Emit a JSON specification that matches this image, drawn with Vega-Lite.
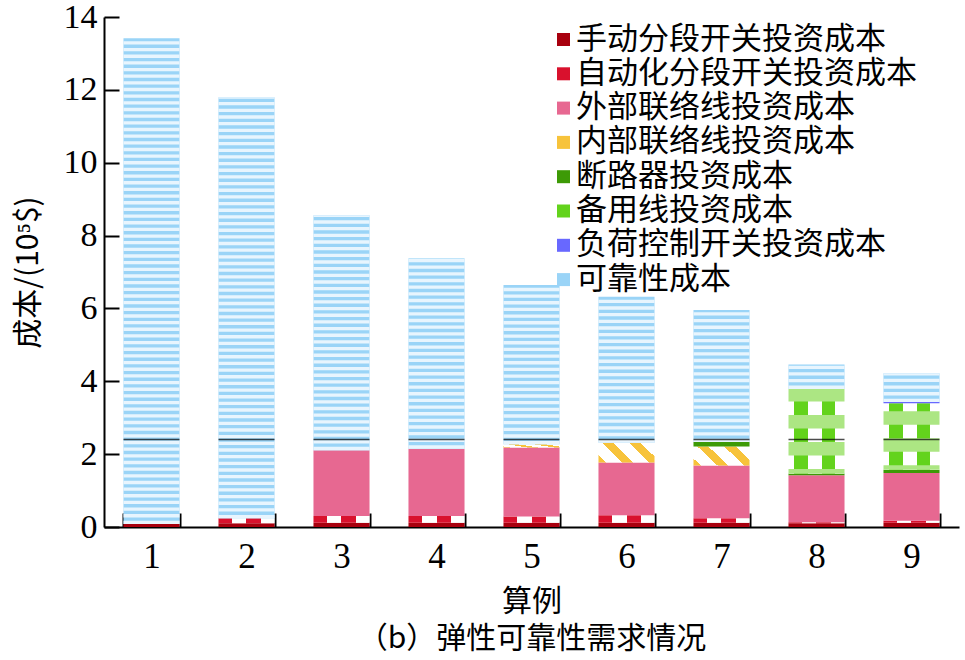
{
  "$schema": "https://vega.github.io/schema/vega-lite/v6.json",
  "width": 855,
  "height": 510,
  "autosize": "none",
  "padding": {"left": 104, "top": 17, "right": 6, "bottom": 133},
  "background": "white",
  "config": {"view": {"stroke": null}},
  "data": {
    "values": [
      {"case": 1, "series": "手动分段开关投资成本", "value": 0.08},
      {"case": 1, "series": "可靠性成本", "value": 13.34},
      {"case": 2, "series": "手动分段开关投资成本", "value": 0.1},
      {"case": 2, "series": "自动化分段开关投资成本", "value": 0.14},
      {"case": 2, "series": "可靠性成本", "value": 11.56},
      {"case": 3, "series": "手动分段开关投资成本", "value": 0.12},
      {"case": 3, "series": "自动化分段开关投资成本", "value": 0.18},
      {"case": 3, "series": "外部联络线投资成本", "value": 1.81},
      {"case": 3, "series": "可靠性成本", "value": 6.45},
      {"case": 4, "series": "手动分段开关投资成本", "value": 0.12},
      {"case": 4, "series": "自动化分段开关投资成本", "value": 0.18},
      {"case": 4, "series": "外部联络线投资成本", "value": 1.85},
      {"case": 4, "series": "可靠性成本", "value": 5.23},
      {"case": 5, "series": "手动分段开关投资成本", "value": 0.12},
      {"case": 5, "series": "自动化分段开关投资成本", "value": 0.17},
      {"case": 5, "series": "外部联络线投资成本", "value": 1.89},
      {"case": 5, "series": "内部联络线投资成本", "value": 0.09},
      {"case": 5, "series": "可靠性成本", "value": 4.37},
      {"case": 6, "series": "手动分段开关投资成本", "value": 0.12},
      {"case": 6, "series": "自动化分段开关投资成本", "value": 0.2},
      {"case": 6, "series": "外部联络线投资成本", "value": 1.45},
      {"case": 6, "series": "内部联络线投资成本", "value": 0.54},
      {"case": 6, "series": "可靠性成本", "value": 4.01},
      {"case": 7, "series": "手动分段开关投资成本", "value": 0.12},
      {"case": 7, "series": "自动化分段开关投资成本", "value": 0.12},
      {"case": 7, "series": "外部联络线投资成本", "value": 1.45},
      {"case": 7, "series": "内部联络线投资成本", "value": 0.52},
      {"case": 7, "series": "断路器投资成本", "value": 0.12},
      {"case": 7, "series": "可靠性成本", "value": 3.63},
      {"case": 8, "series": "手动分段开关投资成本", "value": 0.1},
      {"case": 8, "series": "自动化分段开关投资成本", "value": 0.03},
      {"case": 8, "series": "外部联络线投资成本", "value": 1.29},
      {"case": 8, "series": "断路器投资成本", "value": 0.05},
      {"case": 8, "series": "备用线投资成本", "value": 2.32},
      {"case": 8, "series": "可靠性成本", "value": 0.67},
      {"case": 9, "series": "手动分段开关投资成本", "value": 0.12},
      {"case": 9, "series": "自动化分段开关投资成本", "value": 0.05},
      {"case": 9, "series": "外部联络线投资成本", "value": 1.31},
      {"case": 9, "series": "断路器投资成本", "value": 0.09},
      {"case": 9, "series": "备用线投资成本", "value": 1.83},
      {"case": 9, "series": "负荷控制开关投资成本", "value": 0.03},
      {"case": 9, "series": "可靠性成本", "value": 0.79}
    ]
  },
  "transform": [
    {"stack": "value", "groupby": ["case"], "as": ["v0", "v1"]}
  ],
  "encoding": {
    "x": {
      "field": "case",
      "type": "ordinal",
      "scale": {"paddingInner": 0.41, "paddingOuter": 0.205},
      "axis": {
        "labelAngle": 0,
        "tickBand": "extent",
        "tickSize": -14,
        "tickWidth": 2,
        "tickColor": "black",
        "domainWidth": 2,
        "domainColor": "black",
        "labelFont": "Liberation Serif",
        "labelFontSize": 35,
        "labelColor": "black",
        "labelPadding": 26,
        "title": ["算例", "（b）弹性可靠性需求情况"],
        "titleFont": "Noto Sans CJK SC",
        "titleFontSize": 30,
        "titleFontWeight": "normal",
        "titleColor": "black",
        "titleLineHeight": 37,
        "titlePadding": 12
      }
    },
    "y": {
      "field": "v0",
      "type": "quantitative",
      "scale": {"domain": [0, 14], "nice": false},
      "axis": {
        "values": [0, 2, 4, 6, 8, 10, 12, 14],
        "grid": false,
        "tickSize": -15,
        "tickWidth": 2,
        "tickColor": "black",
        "domainWidth": 2,
        "domainColor": "black",
        "labelFont": "Liberation Serif",
        "labelFontSize": 34,
        "labelColor": "black",
        "labelPadding": 22,
        "title": "成本/(10⁵$)",
        "titleFont": "Noto Sans CJK SC",
        "titleFontSize": 30,
        "titleFontWeight": "normal",
        "titleColor": "black",
        "titlePadding": 20
      }
    },
    "y2": {"field": "v1"}
  },
  "layer": [
    {
      "mark": {"type": "bar"},
      "encoding": {
        "fill": {
          "condition": [
            {
              "test": "datum.series === '自动化分段开关投资成本'",
              "value": {"gradient": "linear", "x1": 0, "y1": 0, "x2": 1, "y2": 0, "stops": [
                {"offset": 0, "color": "#d9112d"}, {"offset": 0.25, "color": "#d9112d"},
                {"offset": 0.25, "color": "#ffffff"}, {"offset": 0.5, "color": "#ffffff"},
                {"offset": 0.5, "color": "#d9112d"}, {"offset": 0.75, "color": "#d9112d"},
                {"offset": 0.75, "color": "#ffffff"}, {"offset": 1, "color": "#ffffff"}]}
            },
            {
              "test": "datum.series === '内部联络线投资成本'",
              "value": {"gradient": "linear", "x1": 0, "y1": 1, "x2": 1.2, "y2": 0.57, "stops": [
                {"offset": 0, "color": "#f7c33b"}, {"offset": 0.096, "color": "#f7c33b"},
                {"offset": 0.096, "color": "#ffffff"}, {"offset": 0.316, "color": "#ffffff"},
                {"offset": 0.316, "color": "#f7c33b"}, {"offset": 0.46, "color": "#f7c33b"},
                {"offset": 0.46, "color": "#ffffff"}, {"offset": 0.669, "color": "#ffffff"},
                {"offset": 0.669, "color": "#f7c33b"}, {"offset": 0.82, "color": "#f7c33b"},
                {"offset": 0.82, "color": "#ffffff"}, {"offset": 1, "color": "#ffffff"}]}
            },
            {
              "test": "datum.series === '备用线投资成本'",
              "value": {"gradient": "linear", "x1": 0, "y1": 0, "x2": 1, "y2": 0, "stops": [
                {"offset": 0, "color": "#ffffff"}, {"offset": 0.09, "color": "#ffffff"},
                {"offset": 0.09, "color": "#63d31c"}, {"offset": 0.345, "color": "#63d31c"},
                {"offset": 0.345, "color": "#ffffff"}, {"offset": 0.59, "color": "#ffffff"},
                {"offset": 0.59, "color": "#63d31c"}, {"offset": 0.83, "color": "#63d31c"},
                {"offset": 0.83, "color": "#ffffff"}, {"offset": 1, "color": "#ffffff"}]}
            }
          ],
          "field": "series",
          "type": "nominal",
          "scale": {
            "domain": ["手动分段开关投资成本", "自动化分段开关投资成本", "外部联络线投资成本", "内部联络线投资成本", "断路器投资成本", "备用线投资成本", "负荷控制开关投资成本", "可靠性成本"],
            "range": ["#a8000e", "#d9112d", "#e76891", "#f7c33b", "#3d9a06", "#63d31c", "#6868ff", "#9ad4f7"]
          },
          "legend": {
            "orient": "none",
            "legendX": 444,
            "legendY": 7,
            "title": null,
            "padding": 0,
            "symbolType": "square",
            "symbolSize": 169,
            "symbolStrokeWidth": 0,
            "labelFont": "Noto Sans CJK SC",
            "labelFontSize": 31,
            "labelColor": "black",
            "labelOffset": -3,
            "labelLimit": 600,
            "rowPadding": 2.3
          }
        }
      }
    },
    {
      "transform": [{"filter": "datum.series === '可靠性成本'"}],
      "mark": {"type": "rule", "stroke": "#e8f5fe", "strokeWidth": 56, "strokeDash": [3.33, 3.33], "strokeCap": "butt"},
      "encoding": {}
    },
    {
      "transform": [{"filter": "datum.series === '备用线投资成本'"}],
      "mark": {"type": "rule", "stroke": "#ace683", "strokeWidth": 56, "strokeDash": [13.5, 13.5], "strokeDashOffset": 9, "strokeCap": "butt"},
      "encoding": {}
    },
    {
      "transform": [{"filter": "datum.series === '可靠性成本'"}],
      "mark": {"type": "tick", "color": "black", "thickness": 1.5, "size": 56},
      "encoding": {"y": {"datum": 2.4}, "y2": null}
    }
  ]
}
